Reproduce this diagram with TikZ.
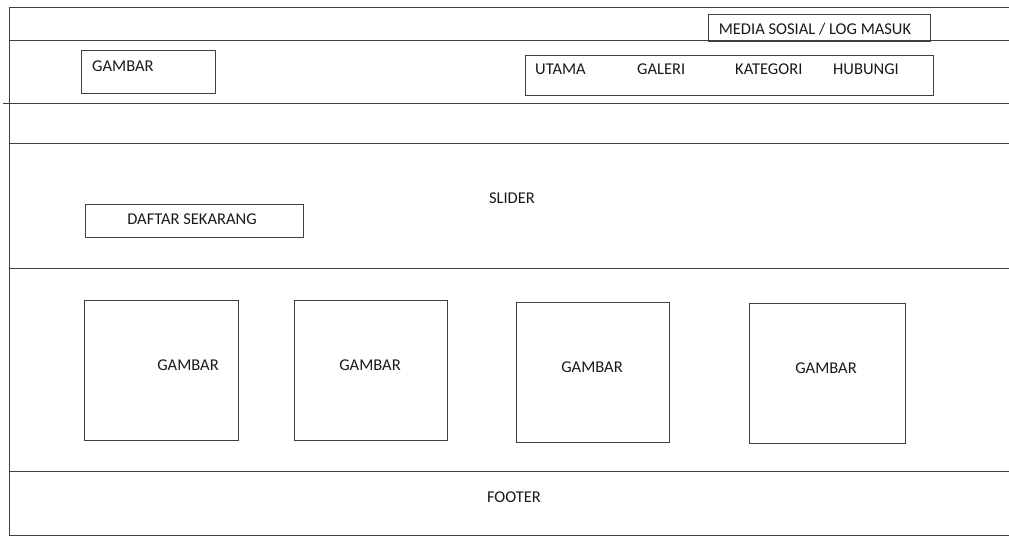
\documentclass[tikz,border=0pt]{standalone}
\usepackage{fontspec}
\setmainfont{Carlito}
\begin{document}
\begin{tikzpicture}[x=1pt, y=-1pt,
    garis/.style={draw=black!75, line width=1pt},
    kotak/.style={rectangle, draw=black!75, line width=1pt, inner sep=0pt},
    teks/.style={font=\fontsize{16.5}{19}\selectfont, text=black!90, inner sep=0pt, text depth=0pt}
]
    \useasboundingbox (0,0) rectangle (1009,536);

    % Bingkai halaman
    \draw[garis] (1009,7) -- (9,7) -- (9,535) -- (1009,535);
    \foreach \xa/\y in {9/40, 3/103, 9/143, 9/268, 9/471} {
        \draw[garis] (\xa,\y) -- (1009,\y);
    }

    % Bahagian atas: media sosial
    \node[kotak, minimum width=222pt, minimum height=27pt] (media) at (819,27.5) {};
    \node[teks] (tmedia) at (815,29) {MEDIA SOSIAL / LOG MASUK};

    % Logo
    \node[kotak, minimum width=134pt, minimum height=43pt] (logo) at (148,71.5) {};
    \node[teks, anchor=west] (tlogo) at (92,66) {GAMBAR};

    % Menu navigasi
    \node[kotak, minimum width=408pt, minimum height=40pt] (menu) at (729,75) {};
    \node[teks, anchor=west] (utama) at (535,69) {UTAMA};
    \node[teks, anchor=west] (galeri) at (637,69) {GALERI};
    \node[teks, anchor=west] (kategori) at (735,69) {KATEGORI};
    \node[teks, anchor=west] (hubungi) at (833,69) {HUBUNGI};

    % Slider
    \node[teks] (slider) at (512,198) {SLIDER};
    \node[kotak, minimum width=218pt, minimum height=33pt] (daftar) at (194,220.5) {};
    \node[teks] (tdaftar) at (192,219) {DAFTAR SEKARANG};

    % Gambar kandungan
    \foreach \n/\cx/\cy/\w/\tx in {1/161/370/154/188, 2/370.5/370.5/153/370, 3/592.5/372/153/592, 4/827/373/156/826} {
        \node[kotak, minimum width=\w pt, minimum height=140pt] (gambar\n) at (\cx,\cy) {};
        \node[teks] (tgambar\n) at (\tx,\cy-5) {GAMBAR};
    }

    % Footer
    \node[teks] (footer) at (514,497) {FOOTER};
\end{tikzpicture}
\end{document}
